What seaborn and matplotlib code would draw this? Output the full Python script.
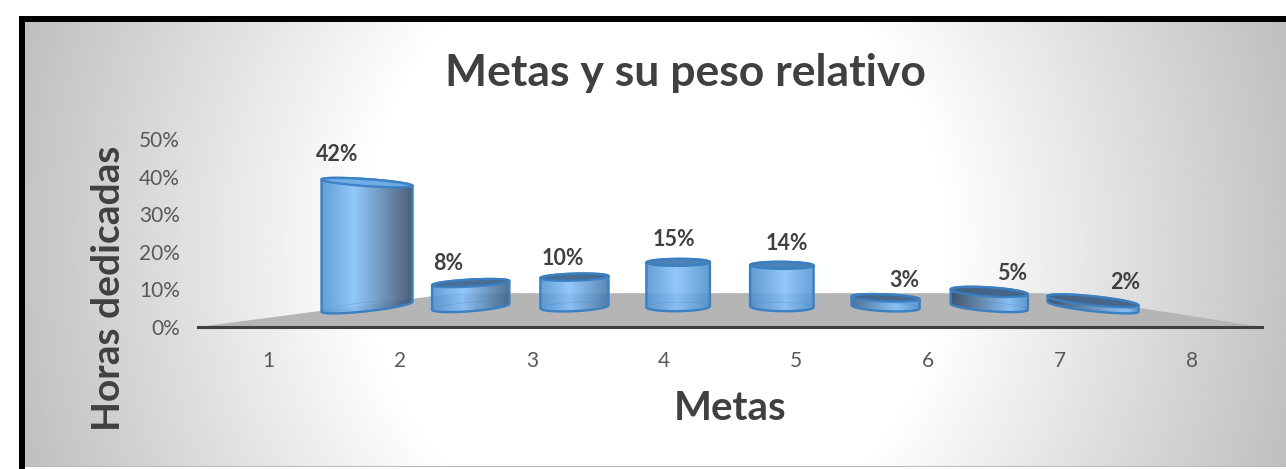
import matplotlib
matplotlib.use('Agg')
import matplotlib.pyplot as plt
from matplotlib.colors import LinearSegmentedColormap, to_rgb
from matplotlib.patches import Polygon, Rectangle
import seaborn as sns
import pandas as pd
import numpy as np

# Data
metas = [1, 2, 3, 4, 5, 6, 7, 8]
pesos = [42, 8, 10, 15, 14, 3, 5, 2]
y_ticks = [0, 10, 20, 30, 40, 50]
titulo = 'Metas y su peso relativo'
x_titulo = 'Metas'
y_titulo = 'Horas dedicadas'

W, H = 1286, 469
plt.rcParams['font.family'] = ['Lato', 'DejaVu Sans']

# fake 3d: the bars stand further back than the axis line
depth = 0.7856
floor_base = 5.4
floor_back = 9.0
mid_x = 4.5
px_x = 1 / 132       # one pixel in x units
px_y = 1 / 3.76      # one pixel in y units

fig = plt.figure(figsize=(W / 100, H / 100), dpi=100, facecolor='white')

# background with black frame and grey radial shading
bg = fig.add_axes([0, 0, 1, 1])
bg.set_xlim(0, W)
bg.set_ylim(H, 0)
bg.axis('off')
bg.add_patch(Rectangle((19, 16), W - 19, 6, color='black', lw=0, zorder=3))
bg.add_patch(Rectangle((19, 16), 6, H - 16, color='black', lw=0, zorder=3))
bg.add_patch(Rectangle((25, 466), W - 25, 1.5, color='#b8b8b8', lw=0, zorder=3))
xx, yy = np.meshgrid(np.linspace(25, W, 400), np.linspace(22, 466, 200))
dist = np.sqrt(((xx - 655) / 630) ** 2 + ((yy - 245) / 670) ** 2)
shade = 1 - 0.25 * np.clip((dist - 0.46) / 0.59, 0, 1.1)
bg.imshow(shade, extent=(25, W, 466, 22), cmap='gray', vmin=0, vmax=1, aspect='auto', zorder=2)
bg.set_xlim(0, W)
bg.set_ylim(H, 0)

ax = fig.add_axes([198 / W, 1 - 327 / H, (1262 - 198) / W, (327 - 139) / H])
ax.patch.set_alpha(0)

df = pd.DataFrame({
    'pos': [mid_x + (m - mid_x) * depth for m in metas],
    'alto': [p * depth for p in pesos],
})
sns.barplot(data=df, x='pos', y='alto', native_scale=True, errorbar=None,
            color='#5b9bd5', ax=ax, zorder=3)

ax.set_xlim(0.47, 8.53)
ax.set_ylim(0, 50)

# floor
ax.add_patch(Polygon([(0.47, 0), (8.53, 0), (6.88, floor_back), (2.42, floor_back)],
                     closed=True, facecolor='#b5b5b5', edgecolor='none', zorder=1))


def blend(a, b, k):
    a, b = np.array(to_rgb(a)), np.array(to_rgb(b))
    return tuple(a + (b - a) * k)


def cap_points(cx, cy, a, b, slope, start, end):
    th = np.linspace(start, end, 50)
    xs = cx + a * np.cos(th) * px_x
    ys = cy + (b * np.sin(th) - slope * a * np.cos(th)) * px_y
    return np.column_stack([xs, ys])


cap_colors = ['#6fade8', '#47698c', '#44698f', '#4a7fb4', '#4a7fb4', '#446485', '#426284', '#446485']
edge_col = '#3a80c2'
label_dx = [-30, -23, -12, -4, 5, 19, 23, 32]
label_dy = [28, 20, 19, 23, 22, 17, 18, 18]

bars = [r for r in ax.containers[0]]
for i, rect in enumerate(bars):
    t = (metas[i] - mid_x) / 3.5
    cx = rect.get_x() + rect.get_width() / 2
    alto = rect.get_height()
    a = (63 + 28 * t ** 2) / 2          # half width in pixels
    rect.set_width(2 * a * px_x)
    rect.set_x(cx - a * px_x)
    rect.set_y(floor_base)
    rect.set_visible(False)
    top = floor_base + alto

    k_base = 0.11
    k_top = 0.11 + (-(alto / px_y)) * 0.00145
    s_base, s_top = k_base * t, k_top * t
    b_base, b_top = 4.5, 3.5 + (1.0 if t > 0.5 else 0)

    low = cap_points(cx, floor_base, a, b_base, s_base, np.pi, 2 * np.pi)
    upp = cap_points(cx, top, a, b_top, s_top, 0, np.pi)
    body = Polygon(np.vstack([low, upp]), closed=True, facecolor='none',
                   edgecolor=edge_col, lw=1.7, zorder=5)
    ax.add_patch(body)

    # horizontal shading of the cylinder
    mid_c, dark_c, light_c = '#4f93d2', '#324660', '#84c1fb'
    kd = max(0, abs(t) - 0.1) * (1.15 if t < 0 else 1.7)
    kd = min(1, kd)
    peak = 0.5 + (0.15 if t < 0 else 0.35) * t
    left = blend(mid_c, dark_c, kd) if t > 0 else to_rgb(mid_c)
    right = blend(mid_c, dark_c, kd) if t < 0 else to_rgb(mid_c)
    cmap = LinearSegmentedColormap.from_list('cil', [(0, left), (peak, light_c), (1, right)])
    im = ax.imshow(np.linspace(0, 1, 256)[None, :], cmap=cmap, vmin=0, vmax=1, aspect='auto', alpha=0.88,
                   extent=(cx - a * px_x, cx + a * px_x, floor_base - 3, top + 3), zorder=4)
    clip = Polygon(np.vstack([low, upp]), closed=True, transform=ax.transData)
    im.set_clip_path(clip)

    # inner rim of the base and top surface
    rim = cap_points(cx, floor_base, a, b_base, s_base, 0, np.pi)
    ax.plot(rim[:, 0], rim[:, 1], color=edge_col, lw=0.6, alpha=0.3, zorder=5)
    tapa = cap_points(cx, top, a, b_top, s_top, 0, 2 * np.pi)
    ax.add_patch(Polygon(tapa, closed=True, facecolor=cap_colors[i], edgecolor=edge_col,
                         lw=1.7, alpha=0.95, zorder=6))

    ax.annotate(f'{pesos[i]}%', (cx, top), xytext=(label_dx[i] * 0.72, label_dy[i] * 0.72),
                textcoords='offset points', ha='center', va='center', fontsize=15.5,
                fontweight='bold', color='#404040', zorder=7)

ax.set_xlim(0.47, 8.53)
ax.set_ylim(0, 50)
ax.set_xticks(metas)
ax.set_xticklabels([str(m) for m in metas])
ax.set_yticks(y_ticks)
ax.set_yticklabels([f'{v}%' for v in y_ticks])
ax.tick_params(axis='x', length=0, pad=17, labelsize=15, labelcolor='#595959')
ax.tick_params(axis='y', length=0, pad=13, labelsize=15, labelcolor='#595959')
ax.set_xlabel('')
ax.set_ylabel('')
sns.despine(ax=ax, left=True, top=True, right=True)
ax.spines['bottom'].set_color('#404040')
ax.spines['bottom'].set_linewidth(2.2)
ax.spines['bottom'].set_zorder(2)

fig.text(685 / W, 1 - 73 / H, titulo, ha='center', va='center', fontsize=32,
         fontweight='bold', color='#404040')
fig.text(730 / W, 1 - 408 / H, x_titulo, ha='center', va='center', fontsize=29,
         fontweight='bold', color='#404040')
fig.text(109 / W, 1 - 288 / H, y_titulo, ha='center', va='center', rotation=90,
         fontsize=28, fontweight='bold', color='#404040')

fig.savefig('out.png', dpi=100)
